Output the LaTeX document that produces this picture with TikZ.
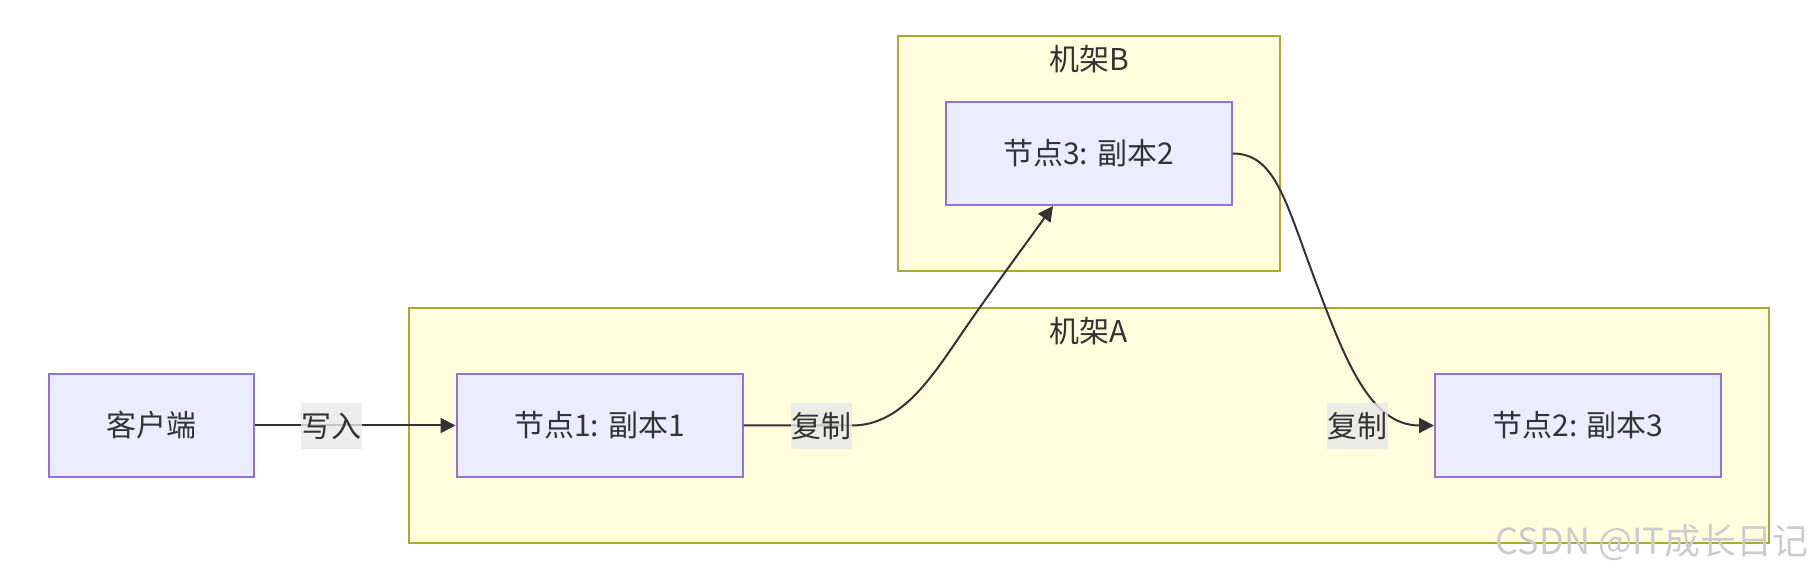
\documentclass[tikz,border=0pt]{standalone}
\usepackage{fontspec}
\setmainfont{Noto Sans CJK SC}
\usetikzlibrary{arrows.meta, positioning}
\definecolor{nodefill}{HTML}{ECECFF}
\definecolor{nodeline}{HTML}{9370DB}
\definecolor{rackfill}{HTML}{FFFFDE}
\definecolor{rackline}{HTML}{AAAA33}
\definecolor{ink}{HTML}{333333}

\begin{document}
\begin{tikzpicture}[
        x=0.5pt, y=-0.5pt,
        >={Triangle[length=7.5pt, width=7.5pt]},
        rack/.style={draw=rackline, fill=rackfill, line width=1pt, minimum height=117.5pt, inner sep=0pt},
        racktitle/.style={font=\fontsize{15}{18}\selectfont, text=ink, inner sep=0pt},
        server/.style={draw=nodeline, fill=nodefill, line width=1pt, minimum width=143pt, minimum height=51.5pt, font=\fontsize{15}{18}\selectfont, text=ink},
        flow/.style={->, draw=ink, line width=1pt},
        edgelabel/.style={fill=black!9, fill opacity=0.8, text opacity=1, text=ink, inner sep=0pt, minimum width=30.5pt, minimum height=23pt, font=\fontsize{15}{18}\selectfont}
    ]
    \useasboundingbox (0,0) rectangle (1818,576);

    % Racks
    \node[rack, minimum width=680pt] (rackA) at (1089,425.5) {};
    \node[rack, minimum width=191pt] (rackB) at (1089,153.5) {};
    \node[racktitle, below=5pt of rackA.north] (titleA) {机架A};
    \node[racktitle, below=5pt of rackB.north] (titleB) {机架B};

    % Client and replicas
    \node[server, minimum width=102.5pt] (client) at (151.5,425.5) {客户端};
    \node[server] (node1) at (599.5,425.5) {节点1: 副本1};
    \node[server] (node3) at (1088.5,153.5) {节点3: 副本2};
    \node[server] (node2) at (1578,425.5) {节点2: 副本3};

    % Write
    \draw[flow] (client) -- (node1);
    \node[edgelabel] (write) at (331.5,426) {写入};

    % Copy to rack B
    \draw[flow] (node1.east) -- (852,425.5) .. controls (900,425.5) and (930,380) .. (960,336)
        .. controls (990,292) and (1025,245) .. ([xshift=-17.75pt]node3.south);
    \node[edgelabel] (copyB) at (821,426) {复制};

    % Copy back to rack A
    \draw[flow] (node3.east) .. controls (1275,153.5) and (1285,200) .. (1315,280)
        .. controls (1345,360) and (1370,425.5) .. (node2.west);
    \node[edgelabel] (copyA) at (1357,426) {复制};

    % Watermark
    \node[font=\fontsize{18}{20}\selectfont, text=black!20, inner sep=0pt] (mark) at (1652,543) {CSDN @IT成长日记};

\end{tikzpicture}
\end{document}
